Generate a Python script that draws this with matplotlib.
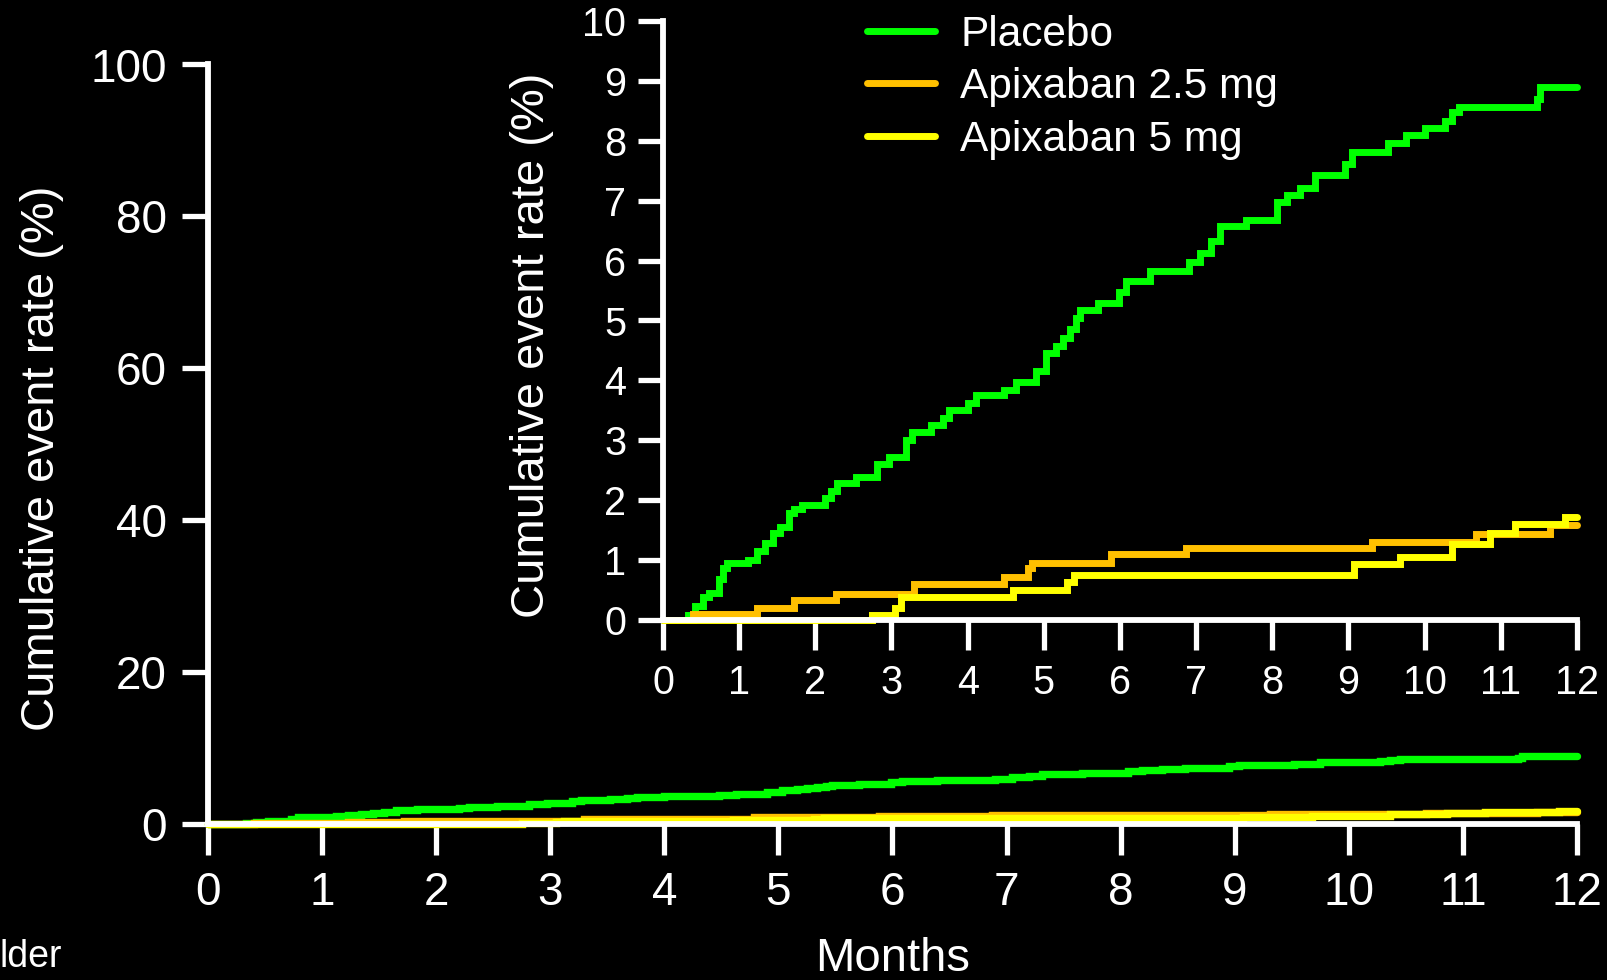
import matplotlib
matplotlib.use("Agg")
import matplotlib.pyplot as plt

# Data (months, cumulative event rate in %)
placebo_t = [0, 0.33, 0.42, 0.53, 0.60, 0.73, 0.79, 0.84, 1.12, 1.23, 1.34, 1.45, 1.54, 1.65, 1.72, 1.83,
             2.13, 2.20, 2.29, 2.53, 2.81, 2.97, 3.19, 3.27, 3.52, 3.67, 3.76, 4.00, 4.11, 4.48, 4.63,
             4.90, 5.03, 5.16, 5.25, 5.34, 5.42, 5.47, 5.71, 5.99, 6.08, 6.39, 6.90, 7.05, 7.20, 7.31,
             7.66, 8.06, 8.19, 8.36, 8.56, 8.95, 9.04, 9.52, 9.75, 10.00, 10.27, 10.36, 10.45, 11.48,
             11.52, 12.0]
placebo_v = [0, 0.09, 0.24, 0.39, 0.45, 0.68, 0.86, 0.95, 1.01, 1.16, 1.28, 1.46, 1.55, 1.79, 1.85, 1.92,
             2.04, 2.16, 2.28, 2.38, 2.60, 2.72, 3.00, 3.14, 3.26, 3.38, 3.50, 3.63, 3.75, 3.84, 3.97,
             4.15, 4.45, 4.58, 4.70, 4.85, 5.05, 5.17, 5.30, 5.48, 5.66, 5.83, 5.98, 6.13, 6.33, 6.58,
             6.68, 6.97, 7.10, 7.22, 7.43, 7.62, 7.82, 7.96, 8.10, 8.21, 8.33, 8.48, 8.56, 8.70,
             8.90, 8.90]

apix25_t = [0, 0.40, 1.23, 1.72, 2.27, 3.30, 4.48, 4.79, 4.85, 5.88, 6.87, 9.31, 10.68, 11.65, 12.0]
apix25_v = [0, 0.10, 0.20, 0.33, 0.44, 0.60, 0.72, 0.86, 0.95, 1.10, 1.21, 1.31, 1.44, 1.58, 1.58]

apix5_t = [0, 2.75, 3.05, 3.12, 4.60, 5.31, 5.40, 9.07, 9.68, 10.36, 10.86, 11.19, 11.84, 12.0]
apix5_v = [0, 0.09, 0.20, 0.38, 0.50, 0.63, 0.75, 0.94, 1.06, 1.27, 1.46, 1.60, 1.72, 1.72]

series = [
    ("Placebo", placebo_t, placebo_v, "#00FF00"),
    ("Apixaban 2.5 mg", apix25_t, apix25_v, "#FFC000"),
    ("Apixaban 5 mg", apix5_t, apix5_v, "#FFFF00"),
]

month_ticks = list(range(0, 13))
main_yticks = [0, 20, 40, 60, 80, 100]
inset_yticks = list(range(0, 11))

plt.rcParams['font.family'] = ['Liberation Sans', 'DejaVu Sans']

W, H = 1608, 980
fig = plt.figure(figsize=(W / 100, H / 100), dpi=100, facecolor="black")

def style_axes(a, tick_size, xlen, ylen, xpad, ypad):
    a.set_facecolor("none")
    for s in ["top", "right"]:
        a.spines[s].set_visible(False)
    for s in ["left", "bottom"]:
        a.spines[s].set_color("white")
        a.spines[s].set_linewidth(4.2)
    a.tick_params(axis="x", colors="white", direction="out", length=xlen, width=3.8,
                  labelsize=tick_size, pad=xpad)
    a.tick_params(axis="y", colors="white", direction="out", length=ylen, width=3.8,
                  labelsize=tick_size, pad=ypad)

# main axes (0-100 %)
ax = fig.add_axes([208 / W, 1 - 824 / H, (1577 - 208) / W, (824 - 64.5) / H])
for name, t, v, c in series:
    ax.plot(t, v, drawstyle="steps-post", color=c, lw=5.3, clip_on=False,
            solid_capstyle="round", solid_joinstyle="miter")
ax.set_xlim(0, 12)
ax.set_ylim(0, 100)
ax.set_xticks(month_ticks)
ax.set_yticks(main_yticks)
style_axes(ax, 33, 22, 19, 12, 10.5)

# inset axes (0-10 %)
ax_in = fig.add_axes([663 / W, 1 - 620 / H, (1577 - 663) / W, (620 - 21) / H])
for name, t, v, c in series:
    ax_in.plot(t, v, drawstyle="steps-post", color=c, lw=5, clip_on=False, label=name,
               solid_capstyle="round", solid_joinstyle="miter")
ax_in.set_xlim(0, 12)
ax_in.set_ylim(0, 10)
ax_in.set_xticks(month_ticks)
ax_in.set_yticks(inset_yticks)
style_axes(ax_in, 28.5, 21.5, 18, 10, 8.5)

leg = ax_in.legend(loc="upper left", bbox_to_anchor=(867 / W, 1 - 15 / H),
                   bbox_transform=fig.transFigure, frameon=False, fontsize=30.5,
                   borderpad=0, borderaxespad=0, handlelength=1.6, handletextpad=0.6,
                   labelspacing=0.29)
for txt in leg.get_texts():
    txt.set_color("white")

# axis labels
fig.text(42 / W, 1 - 458 / H, "Cumulative event rate (%)", rotation=90, color="white",
         fontsize=34, ha="center", va="center")
fig.text(532 / W, 1 - 345 / H, "Cumulative event rate (%)", rotation=90, color="white",
         fontsize=34, ha="center", va="center")
fig.text(893 / W, 9 / H, "Months", color="white", fontsize=34, ha="center", va="baseline")
fig.text(0, 13 / H, "lder", color="white", fontsize=27, ha="left", va="baseline")

fig.savefig("out.png", dpi=100, facecolor="black")
